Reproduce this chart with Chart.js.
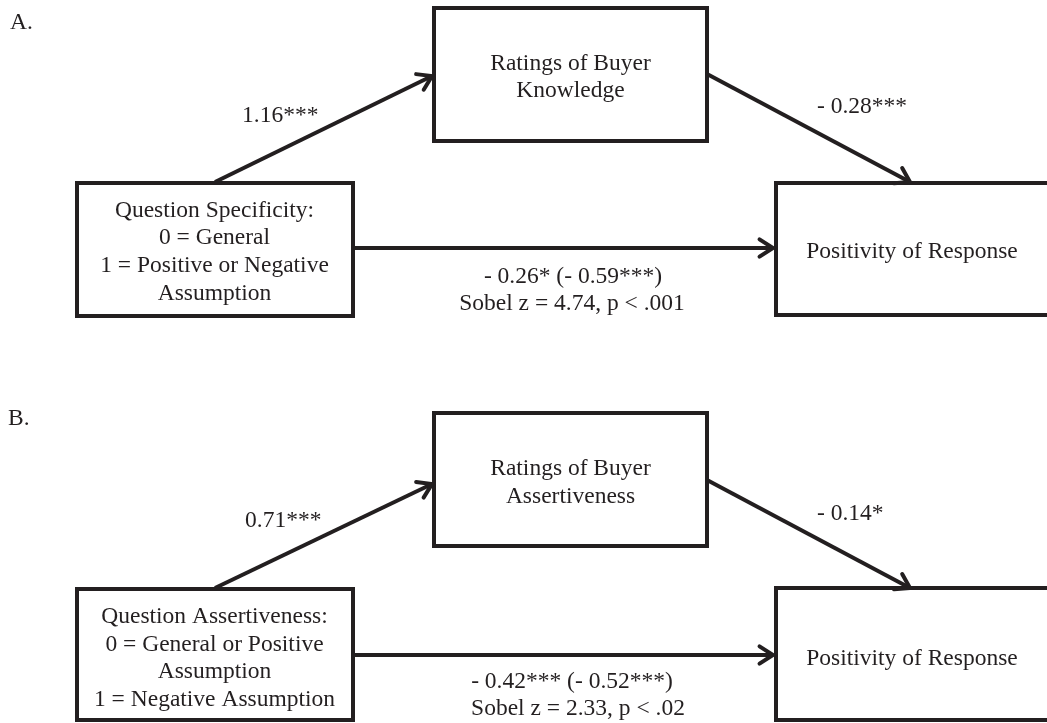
<!DOCTYPE html>
<html>
<head>
<meta charset="utf-8">
<script src="https://cdn.jsdelivr.net/npm/chart.js@4/dist/chart.umd.min.js"></script>
<style>
  html, body { margin: 0; padding: 0; background: #ffffff; }
  #wrap { width: 1047px; height: 723px; }
</style>
</head>
<body>
<div id="wrap"><canvas id="c" width="1047" height="723"></canvas></div>
<script>
// ---- Content (text & coefficients) ----
const panelLabels = ['A.', 'B.'];
const predictorLabels = [
  ['Question Specificity:', '0 = General', '1 = Positive or Negative', 'Assumption'],
  ['Question Assertiveness:', '0 = General or Positive', 'Assumption', '1 = Negative Assumption']
];
const mediatorLabels = [
  ['Ratings of Buyer', 'Knowledge'],
  ['Ratings of Buyer', 'Assertiveness']
];
const outcomeLabels = ['Positivity of Response', 'Positivity of Response'];
const pathACoef = ['1.16***', '0.71***'];
const pathBCoef = ['- 0.28***', '- 0.14*'];
const pathCCoef = ['- 0.26* (- 0.59***)', '- 0.42*** (- 0.52***)'];
const sobelTests = ['Sobel z = 4.74, p < .001', 'Sobel z = 2.33, p < .02'];

// ---- Layout (diagram coordinates, in scale units) ----
const layout = [
  {
    label: {x: 10, y: 29},
    predictor: {x0: 77, y0: 183, x1: 353, y1: 316, cx: 214.5, lines: [217, 244, 272, 300]},
    mediator: {x0: 434, y0: 8, x1: 707, y1: 141, cx: 570.5, lines: [70, 97]},
    outcome: {x0: 776, y0: 183, x1: 1062, y1: 315, cx: 912, lines: [258]},
    arrowA: [[215, 182], [432, 76]],
    arrowB: [[707, 74], [910, 182]],
    arrowC: [[353, 248], [773, 248]],
    aText: {x: 242, y: 122, align: 'left'},
    bText: {x: 817, y: 113, align: 'left'},
    cText: {x: 573, y: 283, align: 'center'},
    sText: {x: 572, y: 310, align: 'center'}
  },
  {
    label: {x: 8, y: 425},
    predictor: {x0: 77, y0: 589, x1: 353, y1: 720, cx: 214.5, lines: [623, 651, 678, 706]},
    mediator: {x0: 434, y0: 413, x1: 707, y1: 546, cx: 570.5, lines: [475, 503]},
    outcome: {x0: 776, y0: 588, x1: 1062, y1: 720, cx: 912, lines: [665]},
    arrowA: [[215, 588], [432, 484]],
    arrowB: [[707, 480], [910, 588]],
    arrowC: [[353, 655], [773, 655]],
    aText: {x: 245, y: 527, align: 'left'},
    bText: {x: 817, y: 520, align: 'left'},
    cText: {x: 572, y: 688, align: 'center'},
    sText: {x: 578, y: 715, align: 'center'}
  }
];

const INK = '#231f20';
const FONT = '23.5px "Liberation Serif", "Times New Roman", serif';

function boxPoly(b) {
  return [
    {x: b.x0, y: b.y0}, {x: b.x1, y: b.y0}, {x: b.x1, y: b.y1},
    {x: b.x0, y: b.y1}, {x: b.x0, y: b.y0}, {x: b.x1, y: b.y0}
  ];
}
function seg(a) { return [{x: a[0][0], y: a[0][1]}, {x: a[1][0], y: a[1][1]}]; }

const datasets = [];
layout.forEach((p, i) => {
  ['predictor', 'mediator', 'outcome'].forEach(k => {
    datasets.push({ label: k + i, data: boxPoly(p[k]) });
  });
  ['arrowA', 'arrowB', 'arrowC'].forEach(k => {
    datasets.push({ label: k + i, data: seg(p[k]), arrow: true });
  });
});
datasets.forEach(d => {
  Object.assign(d, {
    showLine: true, borderColor: INK, borderWidth: 4, pointRadius: 0,
    fill: false, tension: 0, borderJoinStyle: 'miter', borderCapStyle: 'butt'
  });
});

const diagramPlugin = {
  id: 'diagram',
  afterDatasetsDraw(chart) {
    const ctx = chart.ctx;
    const xs = chart.scales.x, ys = chart.scales.y;
    const X = v => xs.getPixelForValue(v), Y = v => ys.getPixelForValue(v);
    ctx.save();
    // arrowheads
    ctx.strokeStyle = INK; ctx.lineWidth = 4; ctx.lineCap = 'round'; ctx.lineJoin = 'miter';
    chart.data.datasets.forEach(d => {
      if (!d.arrow) return;
      const a = d.data[0], b = d.data[1];
      const tx = X(b.x), ty = Y(b.y);
      const ang = Math.atan2(ty - Y(a.y), tx - X(a.x));
      const L = 16, sp = Math.PI / 5.5;
      ctx.beginPath();
      ctx.moveTo(tx - L * Math.cos(ang - sp), ty - L * Math.sin(ang - sp));
      ctx.lineTo(tx, ty);
      ctx.lineTo(tx - L * Math.cos(ang + sp), ty - L * Math.sin(ang + sp));
      ctx.stroke();
    });
    // texts
    ctx.fillStyle = INK; ctx.font = FONT; ctx.textBaseline = 'alphabetic';
    const put = (t, x, y, al) => { ctx.textAlign = al; ctx.fillText(t, X(x), Y(y)); };
    layout.forEach((p, i) => {
      put(panelLabels[i], p.label.x, p.label.y, 'left');
      predictorLabels[i].forEach((t, j) => put(t, p.predictor.cx, p.predictor.lines[j], 'center'));
      mediatorLabels[i].forEach((t, j) => put(t, p.mediator.cx, p.mediator.lines[j], 'center'));
      put(outcomeLabels[i], p.outcome.cx, p.outcome.lines[0], 'center');
      put(pathACoef[i], p.aText.x, p.aText.y, p.aText.align);
      put(pathBCoef[i], p.bText.x, p.bText.y, p.bText.align);
      put(pathCCoef[i], p.cText.x, p.cText.y, p.cText.align);
      put(sobelTests[i], p.sText.x, p.sText.y, p.sText.align);
    });
    ctx.restore();
  }
};

new Chart(document.getElementById('c'), {
  type: 'scatter',
  data: { datasets },
  options: {
    responsive: false,
    animation: false,
    events: [],
    layout: { padding: 0 },
    plugins: { legend: { display: false }, tooltip: { enabled: false } },
    scales: {
      x: { type: 'linear', min: 0, max: 1047, display: false },
      y: { type: 'linear', min: 0, max: 723, reverse: true, display: false }
    },
    elements: { line: { borderWidth: 4 } }
  },
  plugins: [diagramPlugin]
});
</script>
</body>
</html>
